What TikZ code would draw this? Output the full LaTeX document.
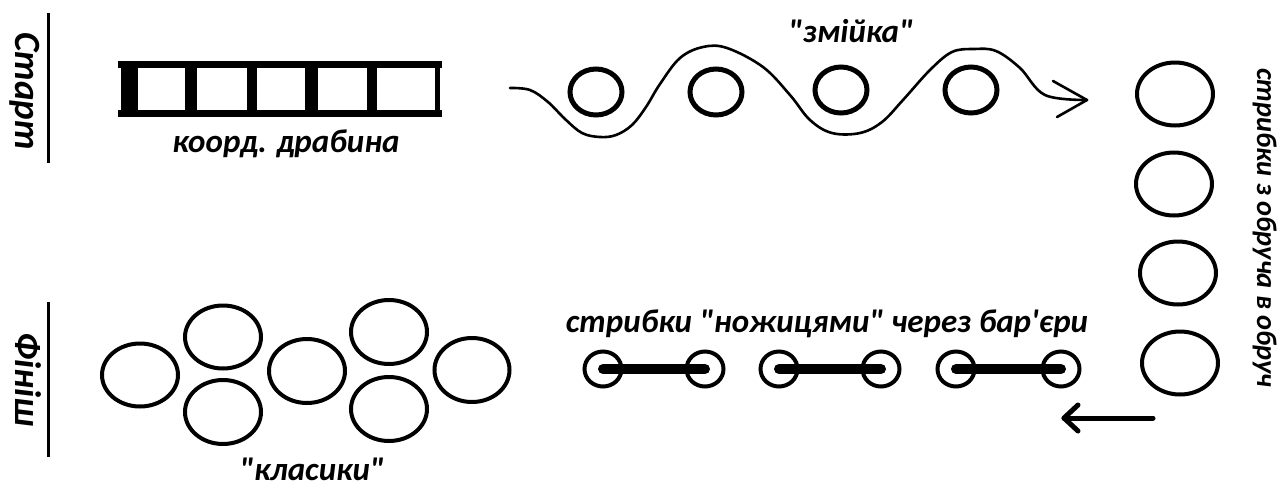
\documentclass[tikz,border=0pt]{standalone}
\usepackage{fontspec}
\setmainfont{Carlito}[Ligatures=TeXOff]
\begin{document}
\begin{tikzpicture}[x=0.5pt,y=-0.5pt,
  lbl/.style={font=\fontsize{16.5}{19}\selectfont\bfseries\itshape, inner sep=0pt, anchor=base},
  biglbl/.style={font=\fontsize{18.5}{22}\selectfont\bfseries\itshape, inner sep=0pt, anchor=base, rotate=-90},
  sidelbl/.style={font=\fontsize{14.2}{16}\selectfont\bfseries\itshape, inner sep=0pt, anchor=base, rotate=-90},
  ring/.style={draw=black, line width=2.5pt},
  hoop/.style={draw=black, line width=2pt},
  barring/.style={draw=black, line width=2pt},
  bar/.style={draw=black, line width=5pt, line cap=round},
  mark line/.style={draw=black, line width=1.5pt},
  snake/.style={draw=black, line width=1.3pt, line join=round, line cap=round},
  back/.style={draw=black, line width=2.5pt, line cap=round, line join=round}]
\path[use as bounding box] (0,0) rectangle (1282,489);

% start / finish marks
\draw[mark line] (48,13) -- (48,163);
\node[biglbl] (start) at (16,91) {Старт};
\draw[mark line] (48,302) -- (48,457);
\node[biglbl] (finish) at (16,380) {Фініш};

% coordination ladder
\fill[black] (118,61) rectangle (442,68);
\fill[black] (118,110) rectangle (442,117);
\fill[black] (121,61) rectangle (440,117);
\fill[white] (138,68) rectangle (185,110);
\fill[white] (197,68) rectangle (247,110);
\fill[white] (257,68) rectangle (305,110);
\fill[white] (318,68) rectangle (367,110);
\fill[white] (377,68) rectangle (435,110);
\node[lbl] (ladder) at (286,152) {коорд. драбина};

% snake
\node[lbl] (snakelbl) at (851,42) {"змійка"};
\draw[ring] (596,92) ellipse [x radius=26, y radius=23];
\draw[ring] (716,92) ellipse [x radius=26, y radius=23];
\draw[ring] (841,90) ellipse [x radius=26, y radius=23];
\draw[ring] (971,90) ellipse [x radius=26, y radius=23];
\draw[snake] plot[smooth, tension=0.6] coordinates {(510,88) (530,90) (548,102) (565,119) (582,133) (600,137) (616,135) (632,125) (646,107) (660,84) (680,58) (703,47) (727,48) (763,67) (790,95) (810,120) (832,133) (860,133) (882,122) (903,100) (930,70) (952,52) (974,49) (996,51) (1020,68) (1045,95) (1087,100)};
\draw[snake] (1053,81) -- (1087,100) -- (1057,117);

% hoops column
\draw[hoop] (1175,94) ellipse [x radius=38, y radius=31.5];
\draw[hoop] (1174,184) ellipse [x radius=38, y radius=31.5];
\draw[hoop] (1178,273) ellipse [x radius=38, y radius=31.5];
\draw[hoop] (1180,363) ellipse [x radius=38, y radius=31.5];
\node[sidelbl] (hooplbl) at (1257,228) {стрибки з обруча в обруч};

% return arrow
\coordinate (ar1) at (1153,418);
\coordinate (ar2) at (1064,418);
\draw[back] (ar1) -- (ar2);
\draw[back] (1078,405) -- (ar2) -- (1078,431);

% scissors over barriers
\node[lbl] (barlbl) at (827,332) {стрибки "ножицями" через бар'єри};
\foreach \a/\b in {603/705, 779/881, 956/1061}{
  \draw[barring] (\a,369) ellipse [x radius=18.5, y radius=17.5];
  \draw[barring] (\b,369) ellipse [x radius=18.5, y radius=17.5];
  \draw[bar] (\a,369) -- (\b,369);
}

% hopscotch
\draw[hoop] (140,375) ellipse [x radius=38, y radius=31.5];
\draw[hoop] (223,337) ellipse [x radius=38, y radius=31.5];
\draw[hoop] (223,412) ellipse [x radius=38, y radius=32];
\draw[hoop] (307,371) ellipse [x radius=38, y radius=32];
\draw[hoop] (389,332) ellipse [x radius=38, y radius=32];
\draw[hoop] (389,409) ellipse [x radius=38, y radius=32];
\draw[hoop] (472,370) ellipse [x radius=37.5, y radius=32];
\node[lbl] (hopslbl) at (312,480) {"класики"};
\end{tikzpicture}
\end{document}
